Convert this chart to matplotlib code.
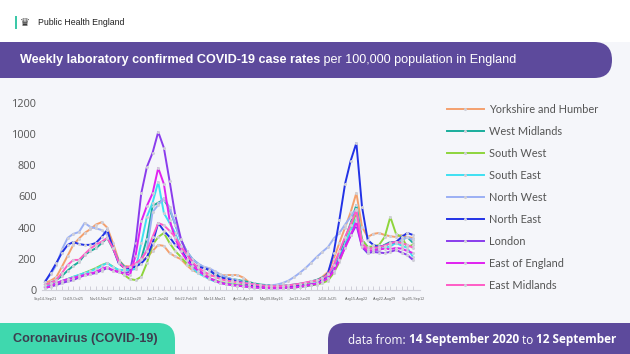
import matplotlib
matplotlib.use("Agg")
import matplotlib.pyplot as plt
from matplotlib.patches import FancyBboxPatch, Rectangle

# weekly rates per 100,000
regions = ["Yorkshire and Humber", "West Midlands", "South West", "South East",
           "North West", "North East", "London", "East of England", "East Midlands"]
colours = ["#f4a06e", "#1aae9c", "#8ed53c", "#3fe0f2", "#9bb0f4", "#2232e6",
           "#8a3cec", "#e022f0", "#ff5cc6"]

tick_labels = ["Sep14-Sep21", "Oct19-Oct25", "Nov16-Nov22", "Dec14-Dec20", "Jan17-Jan24",
               "Feb22-Feb28", "Mar14-Mar21", "Apr11-Apr18", "May09-May16", "Jun13-Jun20",
               "Jul18-Jul25", "Aug15-Aug22", "Aug22-Aug29", "Sep05-Sep12"]

yorkshire = [45, 60, 83, 150, 220, 290, 330, 366, 390, 420, 435,
             400, 302, 193, 155, 150, 165, 185, 210, 250, 289, 283,
             237, 215, 198, 160, 128, 112, 100, 92, 90, 92, 96,
             96, 96, 80, 51, 40, 32, 28, 25, 22, 20, 22,
             26, 32, 40, 50, 60, 85, 116, 200, 302, 400, 500,
             623, 405, 340, 360, 366, 353, 345, 340, 353, 340, 334]
west_midlands = [32, 45, 64, 90, 125, 155, 180, 225, 250, 268, 300,
                 334, 265, 190, 150, 140, 150, 200, 330, 540, 560, 580,
                 520, 420, 320, 250, 200, 170, 145, 125, 100, 90, 80,
                 70, 65, 58, 50, 42, 35, 32, 30, 28, 28, 30,
                 35, 40, 45, 55, 65, 80, 100, 150, 230, 330, 430,
                 546, 321, 276, 272, 270, 290, 308, 302, 320, 340, 302]
south_west = [19, 30, 45, 55, 70, 83, 95, 110, 125, 141, 160,
              173, 150, 125, 96, 70, 64, 85, 173, 290, 340, 366,
              302, 250, 212, 170, 148, 120, 100, 75, 64, 50, 45,
              40, 35, 30, 25, 20, 18, 15, 14, 13, 13, 14,
              16, 20, 25, 30, 35, 45, 60, 110, 180, 280, 390,
              494, 321, 276, 280, 289, 340, 469, 360, 340, 276, 290]
south_east = [19, 32, 45, 58, 70, 85, 97, 109, 120, 135, 155,
              173, 148, 130, 128, 128, 135, 300, 470, 560, 693, 494,
              430, 366, 270, 200, 148, 109, 90, 70, 55, 45, 40,
              35, 30, 26, 22, 20, 18, 16, 15, 15, 16, 18,
              20, 25, 30, 38, 45, 60, 85, 140, 210, 290, 380,
              462, 276, 237, 250, 257, 270, 280, 302, 285, 270, 212]
north_west = [58, 100, 160, 260, 334, 360, 372, 430, 405, 395, 385,
              353, 276, 180, 141, 145, 160, 190, 260, 500, 546, 590,
              530, 420, 320, 250, 200, 170, 150, 140, 120, 100, 80,
              70, 60, 50, 40, 35, 30, 28, 30, 35, 45, 60,
              83, 110, 140, 175, 212, 245, 276, 330, 366, 420, 470,
              520, 302, 260, 270, 275, 285, 300, 310, 320, 340, 321]
north_east = [51, 110, 173, 240, 289, 308, 295, 289, 290, 302, 340,
              385, 270, 173, 141, 140, 150, 170, 210, 300, 430, 380,
              340, 290, 257, 200, 170, 148, 141, 130, 100, 80, 72,
              65, 55, 45, 35, 28, 22, 18, 16, 15, 16, 18,
              22, 26, 30, 35, 40, 64, 110, 240, 450, 680, 830,
              943, 533, 321, 289, 276, 285, 302, 308, 340, 366, 353]
london = [13, 22, 32, 45, 55, 64, 80, 96, 102, 109, 125,
          141, 125, 116, 109, 116, 300, 620, 790, 880, 1014, 912,
          700, 480, 330, 237, 180, 135, 100, 75, 60, 45, 38,
          32, 28, 24, 20, 16, 14, 12, 11, 11, 12, 14,
          16, 20, 25, 32, 40, 55, 80, 130, 200, 280, 350,
          417, 276, 237, 244, 240, 237, 245, 257, 240, 225, 193]
east_of_england = [13, 25, 45, 58, 70, 77, 88, 96, 105, 116, 135,
                   148, 125, 116, 105, 96, 220, 440, 540, 620, 783, 680,
                   450, 330, 250, 193, 155, 125, 100, 78, 60, 45, 38,
                   32, 28, 24, 20, 17, 15, 13, 12, 12, 13, 15,
                   18, 22, 28, 35, 42, 55, 75, 120, 190, 270, 350,
                   440, 280, 250, 255, 260, 265, 262, 270, 265, 250, 237]
east_midlands = [32, 45, 64, 110, 160, 193, 193, 230, 265, 290, 310,
                 334, 270, 180, 141, 150, 170, 200, 250, 340, 430, 415,
                 380, 340, 280, 230, 180, 145, 120, 100, 85, 70, 60,
                 55, 50, 45, 40, 35, 30, 26, 24, 24, 26, 30,
                 35, 40, 48, 55, 62, 75, 100, 160, 250, 340, 420,
                 513, 300, 262, 270, 275, 285, 300, 310, 300, 290, 270]

series = [yorkshire, west_midlands, south_west, south_east, north_west,
          north_east, london, east_of_england, east_midlands]

purple = "#5d4a9c"

fig = plt.figure(figsize=(6.3, 3.54), dpi=100)
fig.patch.set_facecolor("#f5f6fa")

# background layer in pixel units
bg = fig.add_axes([0, 0, 1, 1], zorder=0)
bg.set_xlim(0, 630)
bg.set_ylim(354, 0)
bg.axis("off")
r = fig.canvas.get_renderer()

bg.add_patch(Rectangle((0, 0), 630, 42, color="white", lw=0))
bg.add_patch(FancyBboxPatch((-40, 42), 652, 36, boxstyle="round,pad=0,rounding_size=18",
                            fc=purple, ec="none"))
bg.add_patch(FancyBboxPatch((-40, 323), 215, 60, boxstyle="round,pad=0,rounding_size=17",
                            fc="#3fd8ae", ec="none"))
bg.add_patch(FancyBboxPatch((328, 323), 340, 60, boxstyle="round,pad=0,rounding_size=17",
                            fc=purple, ec="none"))

# logo
bg.add_patch(Rectangle((15, 16), 1.5, 13, color="#3cc8a8", lw=0))
bg.text(20, 23, "\u265b", fontsize=8, color="#333333", va="center")
bg.text(38, 22.5, "Public Health England", fontsize=6.3, color="#222222", va="center",
        family="Liberation Sans")


def parts(x, y, pieces, **kw):
    # write text pieces one after another, bold or not
    for txt, bold in pieces:
        t = bg.text(x, y, txt, va="center", fontweight="bold" if bold else "normal", **kw)
        bb = t.get_window_extent(r)
        x = bg.transData.inverted().transform((bb.x1, bb.y0))[0]
    return x


parts(20, 60, [("Weekly laboratory confirmed COVID-19 case rates", True),
               (" per 100,000 population in England", False)],
      color="white", fontsize=9.1, family="Liberation Sans")
bg.text(13, 339, "Coronavirus (COVID-19)", fontsize=9.1, fontweight="bold",
        color="#3d3d4f", va="center", family="Liberation Sans")
parts(348, 340, [("data from: ", False), ("14 September 2020", True), (" to ", False),
                 ("12 September", True)],
      color="white", fontsize=8.5, family="Open Sans")

# chart
ax = fig.add_axes([42 / 630, 64 / 354, 378 / 630, 190 / 354], zorder=1)
ax.patch.set_alpha(0)
x = list(range(len(yorkshire)))
handles = []
for name, col, vals in zip(regions, colours, series):
    h, = ax.plot(x, vals, color=col, lw=1.4, marker="o", ms=2.2, mfc="#cfcfd8",
                 mec="none", label=name)
    handles.append(h)

ax.set_xlim(-0.53, 66.24)
ax.set_ylim(0, 1219)
ax.set_yticks(range(0, 1201, 200))
ax.tick_params(axis="y", length=0, labelsize=7.8, labelcolor="#555555", pad=4)
ax.set_xticks(x)
ax.set_xticklabels([tick_labels[i // 5] if i % 5 == 0 else "" for i in x])
ax.tick_params(axis="x", direction="in", length=3, color="#c8c8d2", width=0.6,
               labelsize=2.7, labelcolor="#666666", pad=5)
for s in ["left", "top", "right"]:
    ax.spines[s].set_visible(False)
ax.spines["bottom"].set_color("#d0d0d8")
ax.spines["bottom"].set_linewidth(0.8)
for lab in ax.get_yticklabels():
    lab.set_family("Open Sans")
for lab in ax.get_xticklabels():
    lab.set_family("Liberation Sans")

leg = ax.legend(handles=handles, loc="upper left", bbox_to_anchor=(447 / 630, (354 - 104) / 354),
                bbox_transform=fig.transFigure, frameon=False, fontsize=7.9, labelspacing=1.0,
                handlelength=3.35, handletextpad=0.45, borderaxespad=0, borderpad=0, numpoints=1)
for t in leg.get_texts():
    t.set_color("#555555")
    t.set_family("Lato")

fig.savefig("out.png", dpi=100, facecolor=fig.get_facecolor())
